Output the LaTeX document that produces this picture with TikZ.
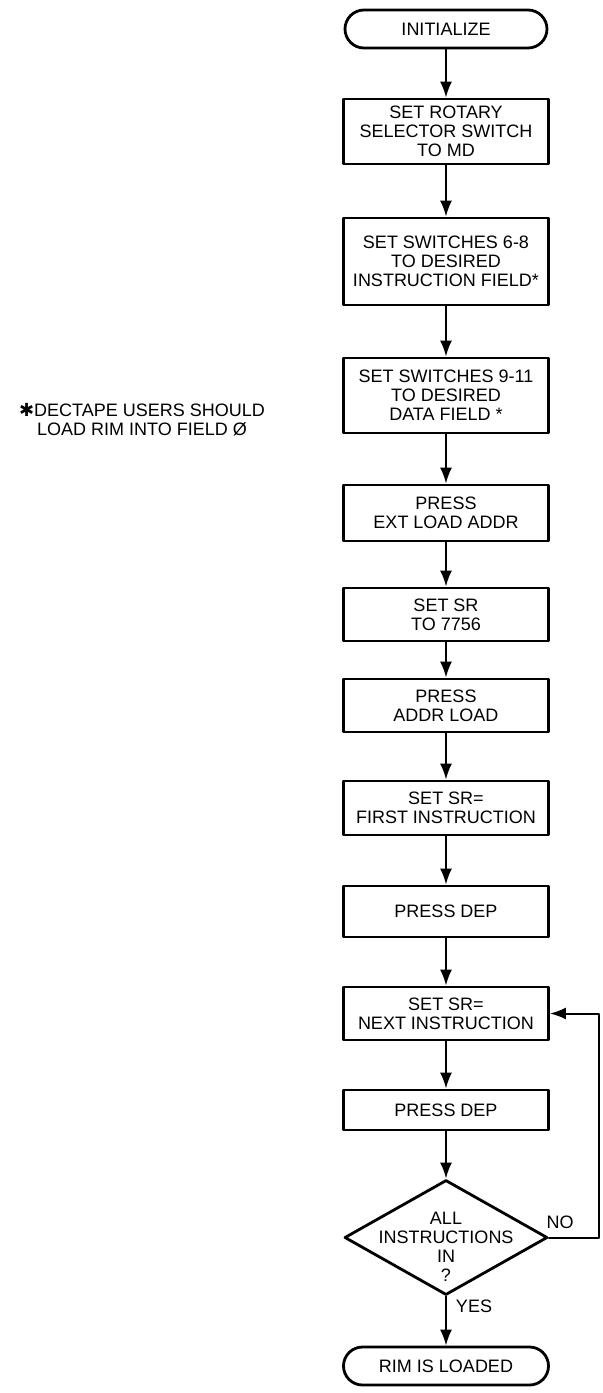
\documentclass[tikz,border=0pt]{standalone}
\usepackage{fontspec}
\setmainfont{Liberation Sans}
\newfontfamily\starfont{DejaVu Sans}
\usetikzlibrary{arrows.meta,shapes.geometric}

\begin{document}
\begin{tikzpicture}[x=0.5pt,y=-0.5pt,line cap=round,line join=round,
  every node/.style={font=\fontsize{9}{9.5}\selectfont},
  stepbox/.style={draw,line width=1.4pt,rectangle,minimum width=102.5pt,inner sep=1pt,align=center},
  terminal/.style={draw,line width=1.4pt,rectangle,rounded corners=9.5pt,minimum width=101pt,minimum height=19pt,inner sep=1pt},
  decision/.style={draw,line width=1.4pt,diamond,minimum width=101.5pt,minimum height=57.5pt,inner sep=0pt},
  flow/.style={-{Latex[length=8pt,width=6pt]},line width=1pt}]
  \useasboundingbox (0,0) rectangle (602,1393);
  \node[terminal] (init) at (446,29) {INITIALIZE};
  \node[stepbox,minimum height=32.5pt] (rotary) at (446,131.5) {SET ROTARY\\SELECTOR SWITCH\\TO MD};
  \node[stepbox,minimum height=43.5pt] (ifield) at (446,261.5) {SET SWITCHES 6-8\\TO DESIRED\\INSTRUCTION FIELD*};
  \node[stepbox,minimum height=37.5pt] (dfield) at (446,395.5) {SET SWITCHES 9-11\\TO DESIRED\\DATA FIELD *};
  \node[stepbox,minimum height=28pt] (extload) at (446,513) {PRESS\\EXT LOAD ADDR};
  \node[stepbox,minimum height=26.5pt] (setsr) at (446,614.5) {SET SR\\TO 7756};
  \node[stepbox,minimum height=26.5pt] (addrload) at (446,705.5) {PRESS\\ADDR LOAD};
  \node[stepbox,minimum height=27pt] (first) at (446,808) {SET SR=\\FIRST INSTRUCTION};
  \node[stepbox,minimum height=25.5pt] (dep1) at (446,911.5) {PRESS DEP};
  \node[stepbox,minimum height=26.5pt] (next) at (446,1013.5) {SET SR=\\NEXT INSTRUCTION};
  \node[stepbox,minimum height=20pt] (dep2) at (446,1110) {PRESS DEP};
  \node[decision] (allin) at (446,1237.5) {};
  \node[align=center] (allintext) at (446,1247) {ALL\\INSTRUCTIONS\\IN\\?};
  \node[terminal,minimum width=102.5pt] (loaded) at (446,1366) {RIM IS LOADED};
  \node[align=center] (note) at (142,420) {{\starfont ✱}DECTAPE USERS SHOULD\\LOAD RIM INTO FIELD Ø};
  \draw[flow] (init) -- (rotary);
  \draw[flow] (rotary) -- (ifield);
  \draw[flow] (ifield) -- (dfield);
  \draw[flow] (dfield) -- (extload);
  \draw[flow] (extload) -- (setsr);
  \draw[flow] (setsr) -- (addrload);
  \draw[flow] (addrload) -- (first);
  \draw[flow] (first) -- (dep1);
  \draw[flow] (dep1) -- (next);
  \draw[flow] (next) -- (dep2);
  \draw[flow] (dep2) -- (allin);
  \draw[flow] (allin) -- (loaded);
  \draw[flow] (allin.east) -- ++(50,0) |- (next.east);
  \node (no) at (560,1222) {NO};
  \node (yes) at (474,1306) {YES};
\end{tikzpicture}
\end{document}
